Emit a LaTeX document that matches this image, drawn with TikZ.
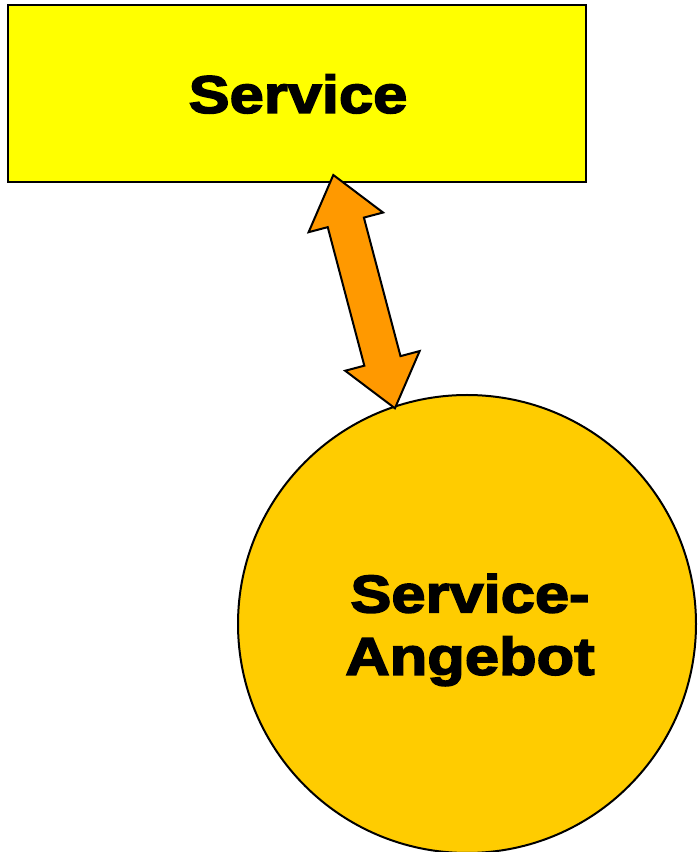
\documentclass[tikz,border=0pt]{standalone}
\usepackage{fontspec}
\setmainfont{Liberation Sans}[BoldFeatures={FakeBold=3,FakeStretch=1.16}]
\definecolor{boxyellow}{HTML}{FFFF00}
\definecolor{circgold}{HTML}{FFCC00}
\definecolor{arroworange}{HTML}{FF9900}
\tikzset{
  labeltext/.style={font=\fontsize{53}{62.3}\selectfont\bfseries, text=black, align=center, inner sep=0pt},
  boxstyle/.style={draw=black, line width=2pt, fill=boxyellow, minimum width=578pt, minimum height=177pt, inner sep=0pt},
  circstyle/.style={draw=black, line width=2pt, fill=circgold, circle, minimum size=458pt, inner sep=0pt},
  blockarrow/.style={draw=black, line width=2pt, fill=arroworange, line join=miter}
}
\begin{document}
\begin{tikzpicture}[x=1pt,y=1pt]
\useasboundingbox (0,0) rectangle (698,852);
\node[boxstyle] (svc) at (297,758.5) {};
\node[labeltext] (svctext) at (298,758) {Service};
\node[circstyle] (ang) at (467,228) {};
\node[labeltext] (angtext) at (470,222) {Service-\\Angebot};
\coordinate (t) at (333.3,677);
\coordinate (b) at (395,443.7);
\begin{scope}[shift={(t)}, rotate=-75.2]
\draw[blockarrow] (0,0) -- (49,38.5) -- (49,18.7) -- (192.3,18.7) -- (192.3,38.5)
  -- (241.3,0) -- (192.3,-38.5) -- (192.3,-18.7) -- (49,-18.7) -- (49,-38.5) -- cycle;
\end{scope}
\end{tikzpicture}
\end{document}
